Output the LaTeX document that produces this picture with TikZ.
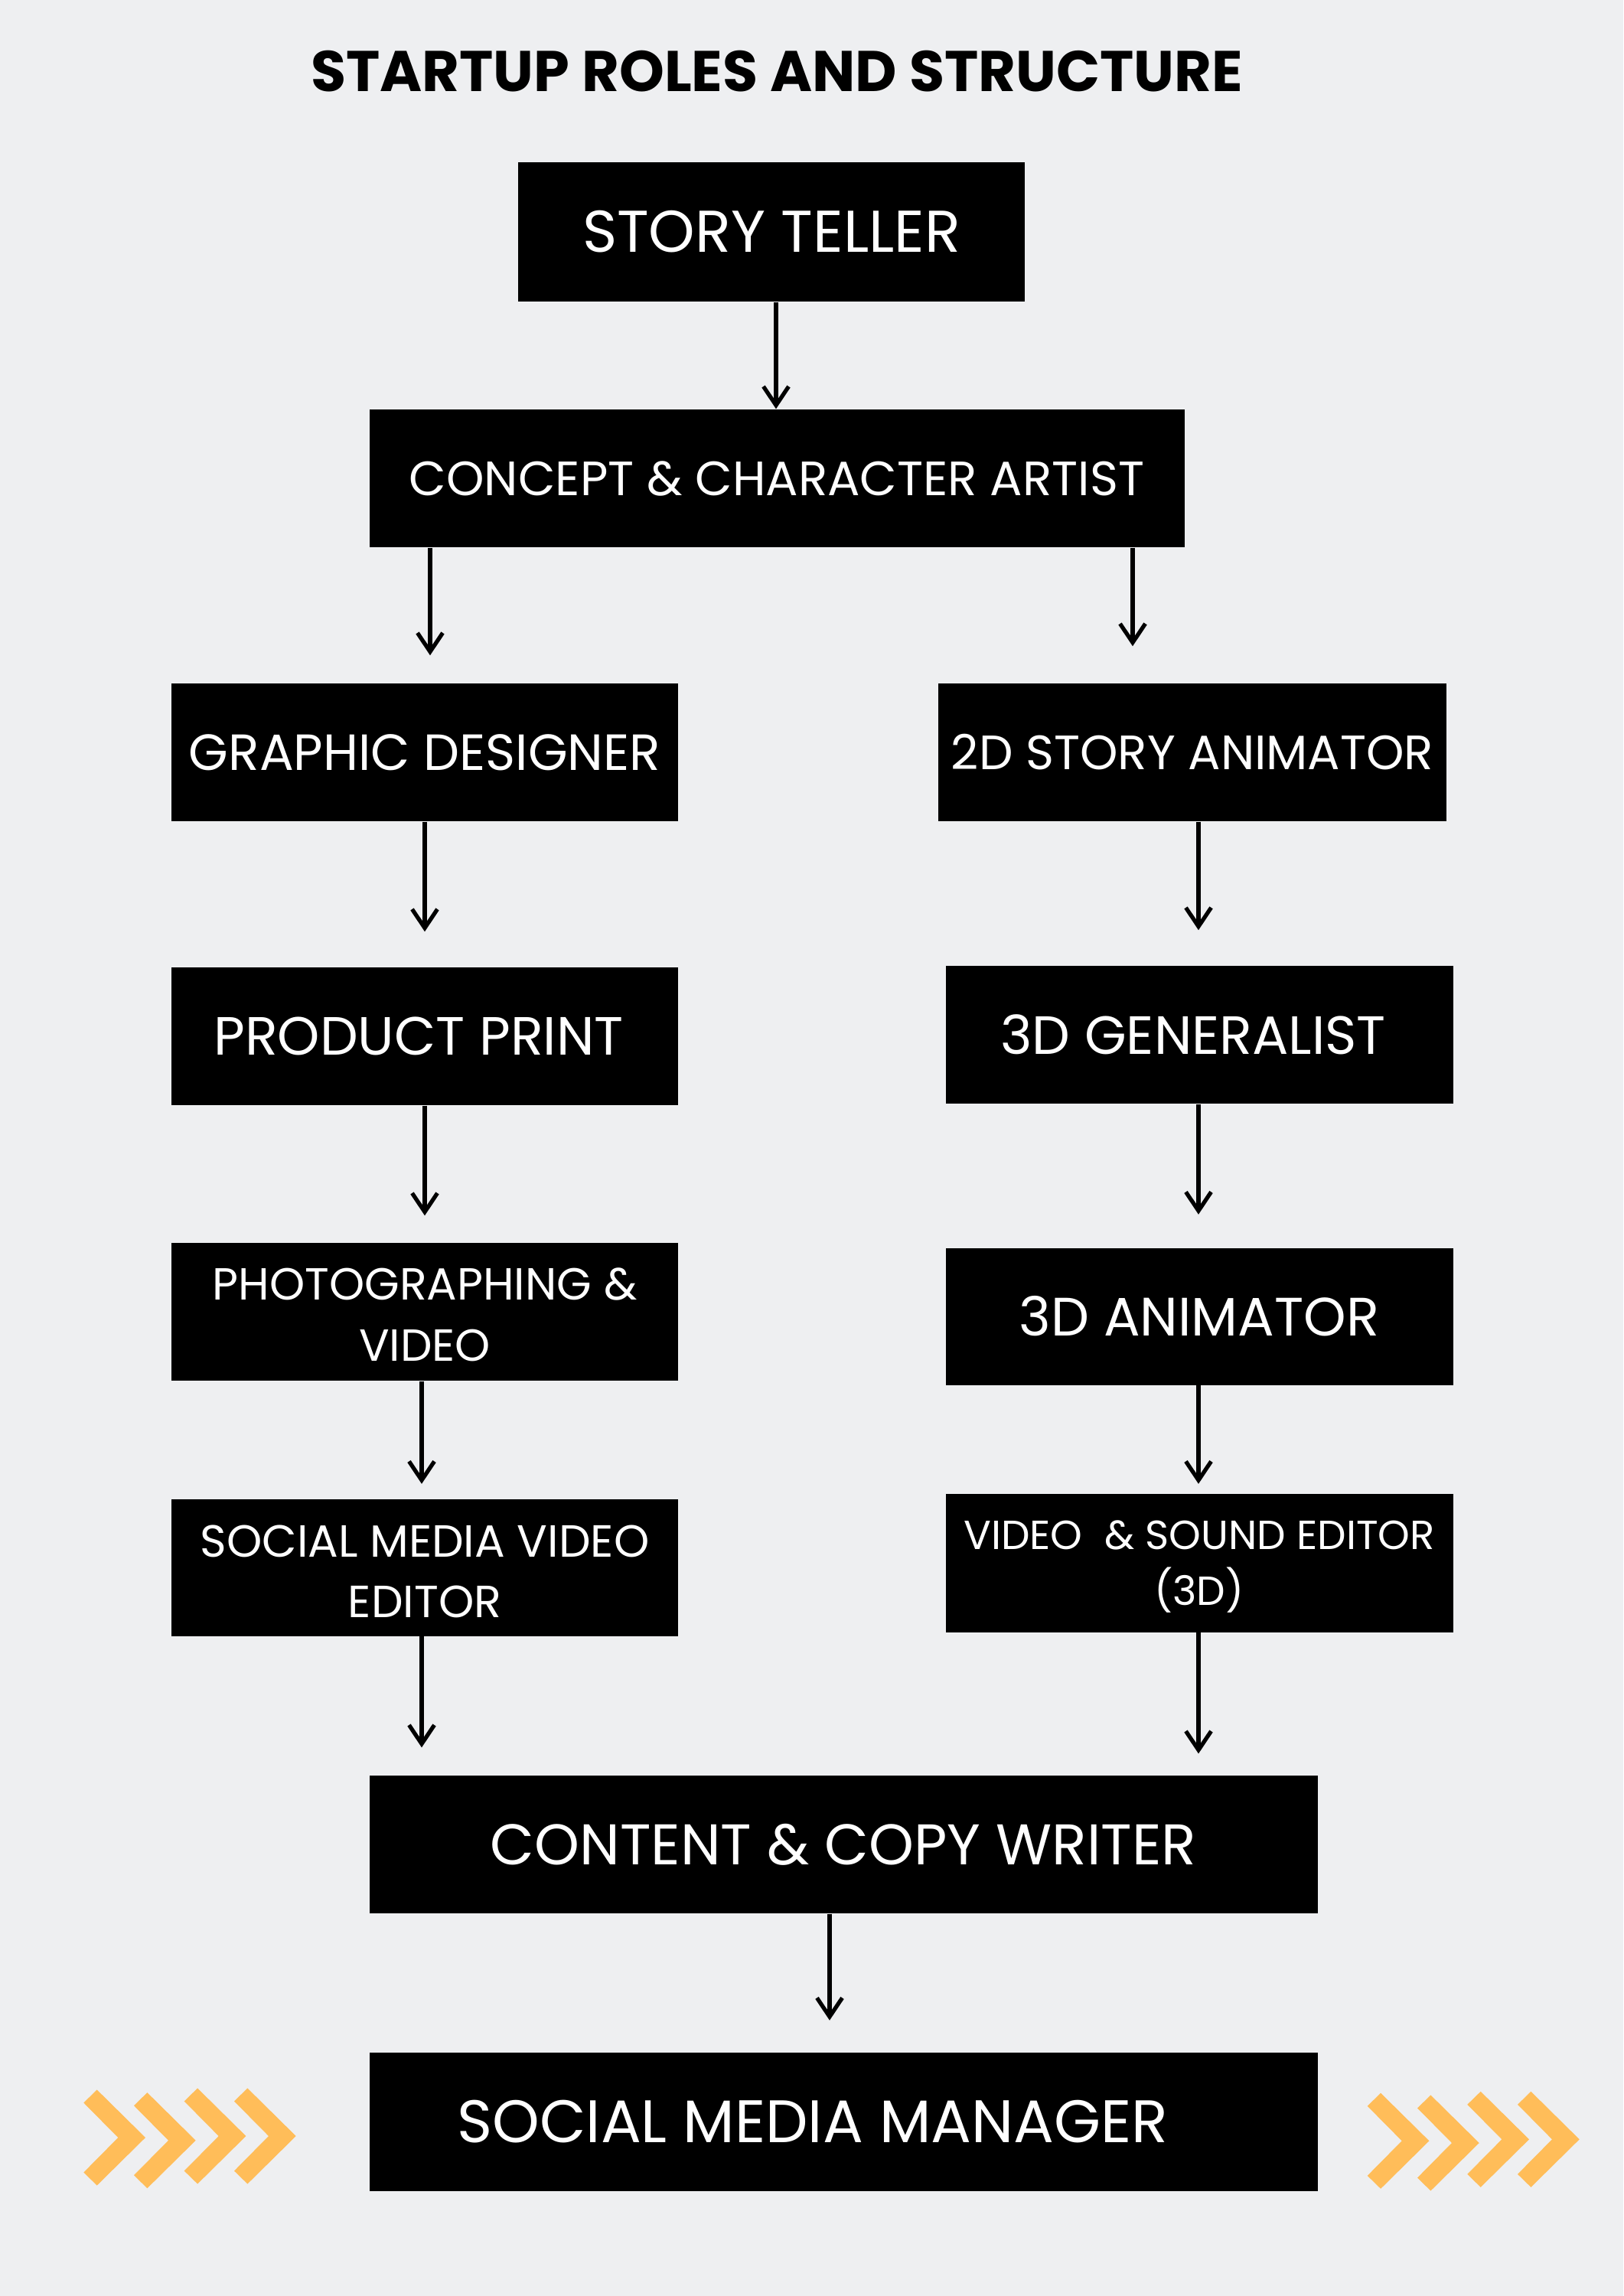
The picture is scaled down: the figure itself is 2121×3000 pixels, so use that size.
\documentclass[tikz,border=0pt]{standalone}
\usepackage{fontspec}
\setmainfont{Poppins}
\usetikzlibrary{arrows.meta}
\definecolor{bgcol}{RGB}{238,239,241}
\definecolor{chevcol}{RGB}{255,189,89}
\newcommand\setfs[2]{\fontsize{#1}{#2}\selectfont}
\begin{document}
\begin{tikzpicture}[x=0.01cm,y=-0.01cm,
  box/.style 2 args={fill=black,text=white,inner sep=0pt,align=center,
    minimum width=#1*0.01cm,minimum height=#2*0.01cm},
  txt/.style={text=white,inner sep=0pt,align=center},
  arr/.style={line width=1.5pt,-{Straight Barb[length=7pt,width=9.4pt]}},
  gp/.style={shorten >=#1*0.2845pt}]
\fill[bgcol] (0,0) rectangle (2121,3000);
\node[font=\setfs{21.3}{26}\bfseries] (title) at (1015,93) {STARTUP ROLES AND STRUCTURE};
\node[box={662}{182},font=\setfs{21.9}{26}] (story) at (1008,303) {STORY TELLER};
\node[box={1065}{180},font=\setfs{17.9}{22}] (concept) at (1015,625) {CONCEPT \& CHARACTER ARTIST};
\node[box={662}{180},font=\setfs{18.9}{22}] (graphic) at (555,983) {GRAPHIC DESIGNER};
\node[box={664}{180},font=\setfs{17.9}{22}] (twod) at (1558,983) {2D STORY ANIMATOR};
\node[box={662}{180},font=\setfs{20}{24}] (product) at (555,1354) {PRODUCT PRINT\kern0.16cm};
\node[box={663}{180},font=\setfs{20}{24}] (gen) at (1567,1352) {3D GENERALIST\kern0.16cm};
\node[box={662}{180}] (photo) at (555,1714) {};
\node[txt,font=\setfs{16.7}{22.8}] (photoT) at (555,1718) {PHOTOGRAPHING \&\\VIDEO};
\node[box={663}{179},font=\setfs{20.1}{24}] (anim) at (1567,1720) {3D ANIMATOR};
\node[box={662}{179}] (smve) at (555,2048) {};
\node[txt,font=\setfs{16.75}{22.4}] (smveT) at (555,2053) {SOCIAL MEDIA VIDEO\\EDITOR};
\node[box={663}{181}] (vse) at (1567,2042) {};
\node[txt,font=\setfs{15.1}{20.5}] (vseT) at (1567,2047) {VIDEO\ \ \& SOUND EDITOR\\(3D)};
\node[box={1239}{180},font=\setfs{21.3}{26}] (content) at (1102,2410) {CONTENT \& COPY WRITER};
\node[box={1239}{181},font=\setfs{22.3}{26}] (smm) at (1102,2772) {SOCIAL MEDIA MANAGER\kern0.8cm};
\draw[arr] (story.south -| 1014,0) -- (concept.north -| 1014,0);
\draw[arr,gp=36] (concept.south -| 562,0) -- (graphic.north -| 562,0);
\draw[arr,gp=48] (concept.south -| 1480,0) -- (twod.north -| 1480,0);
\draw[arr,gp=46] (graphic.south -| 555,0) -- (product.north -| 555,0);
\draw[arr,gp=46] (twod.south -| 1566,0) -- (gen.north -| 1566,0);
\draw[arr,gp=35] (product.south -| 555,0) -- (photo.north -| 555,0);
\draw[arr,gp=43] (gen.south -| 1566,0) -- (anim.north -| 1566,0);
\draw[arr,gp=19] (photo.south -| 551,0) -- (smve.north -| 551,0);
\draw[arr,gp=12] (anim.south -| 1566,0) -- (vse.north -| 1566,0);
\draw[arr,gp=36] (smve.south -| 551,0) -- (content.north -| 551,0);
\draw[arr,gp=28] (vse.south -| 1566,0) -- (content.north -| 1566,0);
\draw[arr,gp=41] (content.south -| 1084,0) -- (smm.north -| 1084,0);
\foreach \L/\Y in {109.3/2793,175/2796.7,240.7/2791,306/2791,1786.7/2797.3,1852/2800,1917.3/2795.3,1983/2795.3}
  \fill[chevcol] (\L,\Y-45.5) -- (\L+17.4,\Y-62.5) -- (\L+80.7,\Y) -- (\L+17.4,\Y+62.5) -- (\L,\Y+45.5) -- (\L+45,\Y) -- cycle;
\end{tikzpicture}
\end{document}
